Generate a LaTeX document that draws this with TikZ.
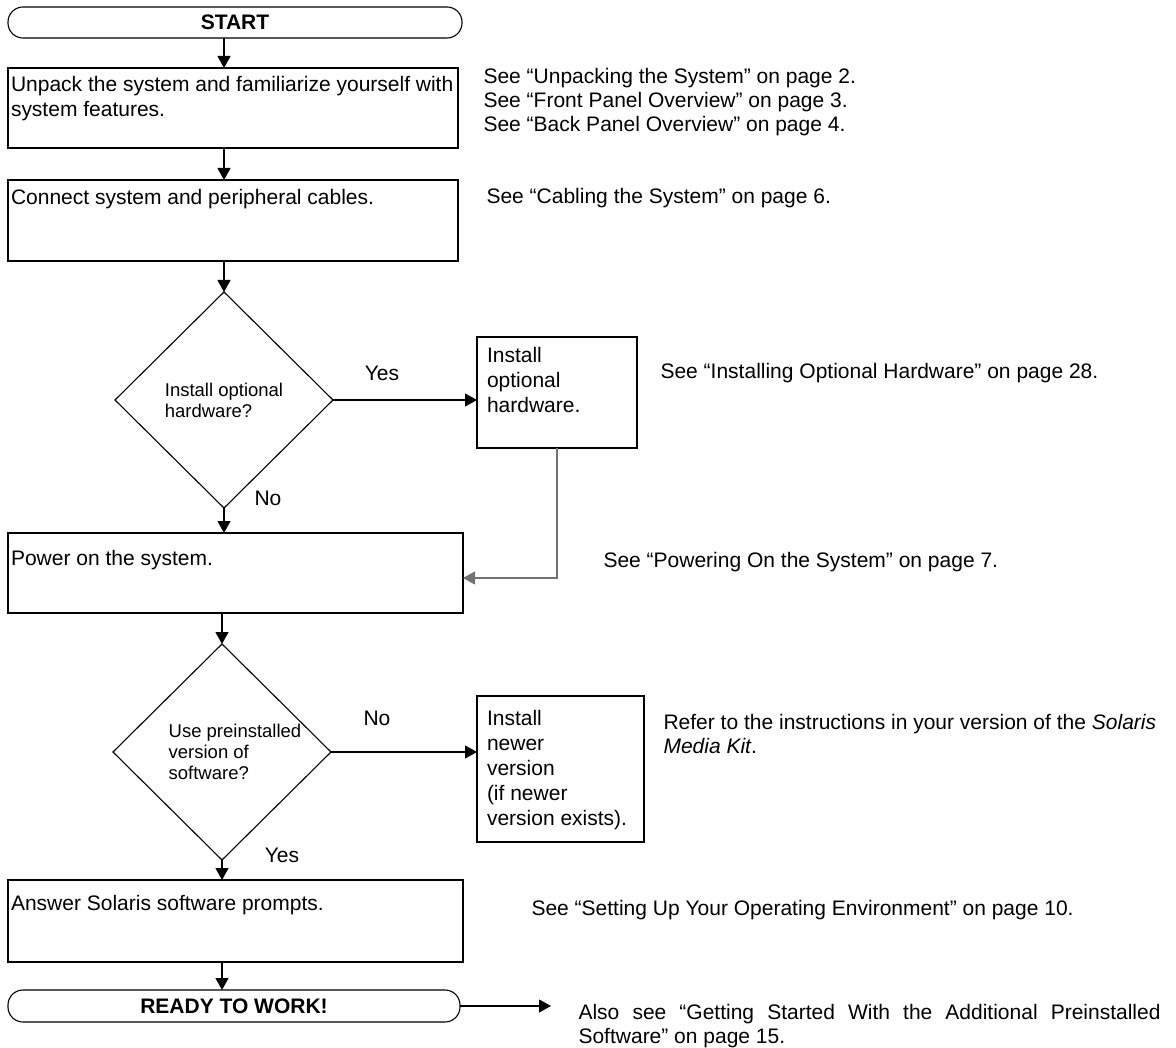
\documentclass[tikz,border=0pt]{standalone}
\usepackage{fontspec}
\setmainfont{Liberation Sans}
\usetikzlibrary{arrows.meta,positioning,calc,shapes.geometric}

\newcommand{\boxtext}[4]{\parbox[c][#2][t]{#1}{\raggedright\vspace*{#3}#4}}

\begin{document}
\begin{tikzpicture}[x=1pt, y=-1pt, > = {Triangle[length=12pt,width=13pt]}, line width=1.1pt]
            % Styles
            \tikzstyle{terminal}=[draw, rectangle, rounded corners=15pt, inner sep=0pt, outer sep=0pt, font=\fontsize{21}{24}\selectfont\bfseries]
            \tikzstyle{stepbox}=[draw, rectangle, anchor=north west, inner xsep=3pt, inner ysep=0pt, outer sep=0pt, font=\fontsize{21}{25}\selectfont]
            \tikzstyle{decision}=[draw, diamond, inner sep=0pt, outer sep=0pt, align=left, minimum width=218pt, minimum height=216pt, font=\fontsize{18.5}{21}\selectfont]
            \tikzstyle{note}=[anchor=west, align=left, inner sep=0pt, font=\fontsize{21}{24}\selectfont]
            \tikzstyle{answer}=[inner sep=0pt, font=\fontsize{21}{24}\selectfont]

            \useasboundingbox (0,0) rectangle (1176,1048);

            % Flow
            \node[terminal, minimum width=454pt, minimum height=31pt] (start) at (235,22.5) {START};
            \node[stepbox] (unpack) at (8,68) {\boxtext{444pt}{80pt}{8pt}{Unpack the system and familiarize yourself with\\system features.}};
            \node[stepbox] (connect) at (8,180) {\boxtext{444pt}{81pt}{9pt}{Connect system and peripheral cables.}};
            \node[decision] (optq) at (224,400) {Install optional\\hardware?};
            \node[stepbox, inner xsep=10pt] (optinst) at (477,337) {\boxtext{140pt}{111pt}{10pt}{Install\\optional\\hardware.}};
            \node[stepbox] (power) at (8,533) {\boxtext{449pt}{80pt}{17pt}{Power on the system.}};
            \node[decision, label={[xshift=13pt, align=left, font=\fontsize{18.5}{21}\selectfont]center:Use preinstalled\\version of\\software?}] (softq) at (222,752) {};
            \node[stepbox, inner xsep=10pt] (newinst) at (477,696) {\boxtext{147pt}{146pt}{14pt}{Install\\newer\\version\\(if newer\\version exists).}};
            \node[stepbox] (answer) at (8,880) {\boxtext{449pt}{82pt}{15pt}{Answer Solaris software prompts.}};
            \node[terminal, minimum width=452pt, minimum height=32pt] (ready) at (234,1006) {READY TO WORK!};
            \coordinate (alsoend) at (551,1006);

            % Answers
            \node[answer] (yes1) at (382,373) {Yes};
            \node[answer] (no1) at (268,498) {No};
            \node[answer] (no2) at (377,718) {No};
            \node[answer] (yes2) at (282,855) {Yes};

            % References
            \node[note] (seeunpack) at (483,102) {See “Unpacking the System” on page 2.\\See “Front Panel Overview” on page 3.\\See “Back Panel Overview” on page 4.};
            \node[note] (seecable) at (486,198) {See “Cabling the System” on page 6.};
            \node[note] (seeopt) at (660,373) {See “Installing Optional Hardware” on page 28.};
            \node[note] (seepower) at (603,562) {See “Powering On the System” on page 7.};
            \node[note] (refer) at (663,734) {Refer to the instructions in your version of the \textit{Solaris}\\\textit{Media Kit}.};
            \node[note] (seesetup) at (531,910) {See “Setting Up Your Operating Environment” on page 10.};
            \node[note, anchor=north west, text width=582pt, align=justify] (alsosee) at (578,1004) {Also see “Getting Started With the Additional Preinstalled \mbox{Software”} on page 15.};

            % Arrows
            \draw[->] (start.south -| optq) -- (unpack.north -| optq);
            \draw[->] (unpack.south -| optq) -- (connect.north -| optq);
            \draw[->] (connect.south -| optq) -- (optq.north);
            \draw[->] (optq.east) -- (optq.east -| optinst.west);
            \draw[->] (optq.south) -- (power.north -| optq);
            \draw[->, black!55] (optinst.south) |- ([yshift=-5pt]power.east);
            \draw[->] (power.south -| softq) -- (softq.north);
            \draw[->] (softq.east) -- (softq.east -| newinst.west);
            \draw[->] (softq.south) -- (answer.north -| softq);
            \draw[->] (answer.south -| softq) -- (ready.north -| softq);
            \draw[->] (ready.east) -- (alsoend);
\end{tikzpicture}
\end{document}
